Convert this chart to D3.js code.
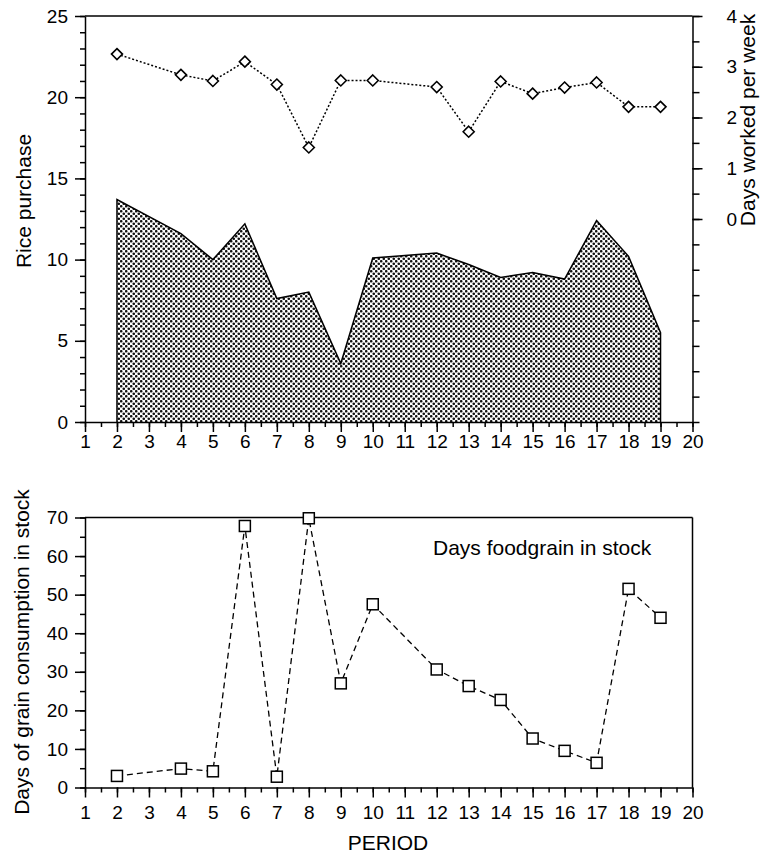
<!DOCTYPE html>
<html>
<head>
<meta charset="utf-8">
<script src="https://cdn.jsdelivr.net/npm/d3@7"></script>
<style>
  body { margin: 0; background: #fff; }
  svg { display: block; font-family: "Liberation Sans", Arial, Helvetica, sans-serif; }
  .axis text { font-family: "Liberation Sans", Arial, Helvetica, sans-serif; font-size: 19px; fill: #000; }
  .axis line, .axis path { stroke: #000; stroke-width: 1.5; }
  .title { font-size: 21px; fill: #000; }
</style>
</head>
<body>
<svg id="chart" width="761" height="854"></svg>
<script>
// periods observed (3 and 11 are missing in the source)
const periods = [2, 4, 5, 6, 7, 8, 9, 10, 12, 13, 14, 15, 16, 17, 18, 19];
const ricePurchase = [13.7, 11.6, 10.0, 12.2, 7.6, 8.0, 3.6, 10.1, 10.4, 9.7, 8.9, 9.2, 8.8, 12.4, 10.2, 5.5];
const daysWorked = [3.25, 2.84, 2.72, 3.10, 2.65, 1.41, 2.73, 2.73, 2.60, 1.72, 2.71, 2.47, 2.59, 2.69, 2.21, 2.21];
const daysInStock = [3.0, 4.9, 4.2, 67.8, 2.8, 69.8, 27.0, 47.5, 30.6, 26.3, 22.7, 12.7, 9.5, 6.4, 51.5, 44.0];

const xTicks = d3.range(1, 21);
const riceTicks = [0, 5, 10, 15, 20, 25];
const workTicks = [0, 1, 2, 3, 4];
const stockTicks = [0, 10, 20, 30, 40, 50, 60, 70];

const svg = d3.select('#chart');

const x = d3.scaleLinear().domain([1, 20]).range([85, 692.5]);
const yRice = d3.scaleLinear().domain([0, 25]).range([422, 16]);
const yWork = d3.scaleLinear().domain([-4, 4]).range([422, 16]);
const yStock = d3.scaleLinear().domain([0, 70]).range([787.5, 517.5]);

// stipple fill for the rice area
const pat = svg.append('defs').append('pattern')
  .attr('id', 'stipple')
  .attr('patternUnits', 'userSpaceOnUse')
  .attr('width', 5).attr('height', 5);
pat.append('rect').attr('width', 5).attr('height', 5).attr('fill', '#fff');
pat.append('circle').attr('cx', 1.25).attr('cy', 1.25).attr('r', 1.3).attr('fill', '#111');
pat.append('circle').attr('cx', 3.75).attr('cy', 3.75).attr('r', 1.3).attr('fill', '#111');

const rice = periods.map((p, i) => ({p, v: ricePurchase[i]}));
const work = periods.map((p, i) => ({p, v: daysWorked[i]}));
const stock = periods.map((p, i) => ({p, v: daysInStock[i]}));

// helper: major + minor ticks on one axis
function drawAxis(g, axisFn, scale, major, minor, majSize, minSize, pad, labels) {
  g.append('g').attr('class', 'axis')
    .call(axisFn(scale).tickValues(minor).tickSize(minSize).tickSizeOuter(0).tickFormat(''))
    .call(s => s.select('.domain').remove());
  g.append('g').attr('class', 'axis')
    .call(axisFn(scale).tickValues(major).tickSize(majSize).tickSizeOuter(0).tickPadding(pad)
      .tickFormat(labels ? d3.format('d') : ''))
    .attr('font-family', null).attr('font-size', null);
}

// ---------- top panel ----------
const upper = svg.append('g');

upper.append('path')
  .datum(rice)
  .attr('fill', 'url(#stipple)')
  .attr('d', d3.area().x(d => x(d.p)).y0(yRice(0)).y1(d => yRice(d.v)));

const outline = [{p: periods[0], v: 0}, ...rice, {p: periods[periods.length - 1], v: 0}];
upper.append('path')
  .datum(outline)
  .attr('fill', 'none').attr('stroke', '#000').attr('stroke-width', 1.5)
  .attr('d', d3.line().x(d => x(d.p)).y(d => yRice(d.v)));

// frame top
upper.append('line')
  .attr('x1', x(1)).attr('x2', x(20)).attr('y1', yRice(25)).attr('y2', yRice(25))
  .attr('stroke', '#000').attr('stroke-width', 1.5);

const gl = upper.append('g').attr('transform', `translate(${x(1)},0)`);
drawAxis(gl, d3.axisLeft, yRice, riceTicks, d3.range(0, 26), 10, 5, 7, true);

const gr = upper.append('g').attr('transform', `translate(${x(20)},0)`);
drawAxis(gr, d3.axisRight, yWork, workTicks, d3.range(-4, 4.01, 0.5), 10, 7, 24, true);

const gb = upper.append('g').attr('transform', `translate(0,${yRice(0)})`);
drawAxis(gb, d3.axisBottom, x, xTicks, d3.range(1, 20.01, 0.5), 10, 5, 3, true);

// days worked: dotted line with diamonds
upper.append('path')
  .datum(work)
  .attr('fill', 'none').attr('stroke', '#000').attr('stroke-width', 1.5)
  .attr('stroke-dasharray', '2,2')
  .attr('d', d3.line().x(d => x(d.p)).y(d => yWork(d.v)));

upper.selectAll('.diamond')
  .data(work)
  .enter().append('path')
  .attr('class', 'diamond')
  .attr('transform', d => `translate(${x(d.p)},${yWork(d.v)})`)
  .attr('d', 'M0,-5.5L5.5,0L0,5.5L-5.5,0Z')
  .attr('fill', '#fff').attr('stroke', '#000').attr('stroke-width', 1.6);

upper.append('text').attr('class', 'title')
  .attr('transform', 'translate(31,201) rotate(-90)')
  .attr('text-anchor', 'middle')
  .text('Rice purchase');

upper.append('text').attr('class', 'title')
  .attr('transform', 'translate(755,120) rotate(-90)')
  .attr('text-anchor', 'middle')
  .text('Days worked per week');

// ---------- bottom panel ----------
const lower = svg.append('g');

lower.append('line')
  .attr('x1', x(1)).attr('x2', x(20)).attr('y1', yStock(70)).attr('y2', yStock(70))
  .attr('stroke', '#000').attr('stroke-width', 1.5);
lower.append('line')
  .attr('x1', x(20)).attr('x2', x(20)).attr('y1', yStock(70)).attr('y2', yStock(0))
  .attr('stroke', '#000').attr('stroke-width', 1.5);

const gl2 = lower.append('g').attr('transform', `translate(${x(1)},0)`);
drawAxis(gl2, d3.axisLeft, yStock, stockTicks, d3.range(0, 71, 5), 10, 5, 7, true);

const gb2 = lower.append('g').attr('transform', `translate(0,${yStock(0)})`);
drawAxis(gb2, d3.axisBottom, x, xTicks, d3.range(1, 20.01, 0.5), 10, 5, 8, true);

lower.append('path')
  .datum(stock)
  .attr('fill', 'none').attr('stroke', '#000').attr('stroke-width', 1.3)
  .attr('stroke-dasharray', '6,4')
  .attr('d', d3.line().x(d => x(d.p)).y(d => yStock(d.v)));

lower.selectAll('.sq')
  .data(stock)
  .enter().append('rect')
  .attr('class', 'sq')
  .attr('x', d => x(d.p) - 5.5).attr('y', d => yStock(d.v) - 5.5)
  .attr('width', 11).attr('height', 11)
  .attr('fill', '#fff').attr('stroke', '#000').attr('stroke-width', 1.5);

lower.append('text').attr('class', 'title')
  .attr('x', 433).attr('y', 555)
  .text('Days foodgrain in stock');

lower.append('text').attr('class', 'title')
  .attr('transform', 'translate(29,652) rotate(-90)')
  .attr('text-anchor', 'middle')
  .text('Days of grain consumption in stock');

lower.append('text').attr('class', 'title')
  .attr('x', 388).attr('y', 850)
  .attr('text-anchor', 'middle')
  .text('PERIOD');
</script>
</body>
</html>
